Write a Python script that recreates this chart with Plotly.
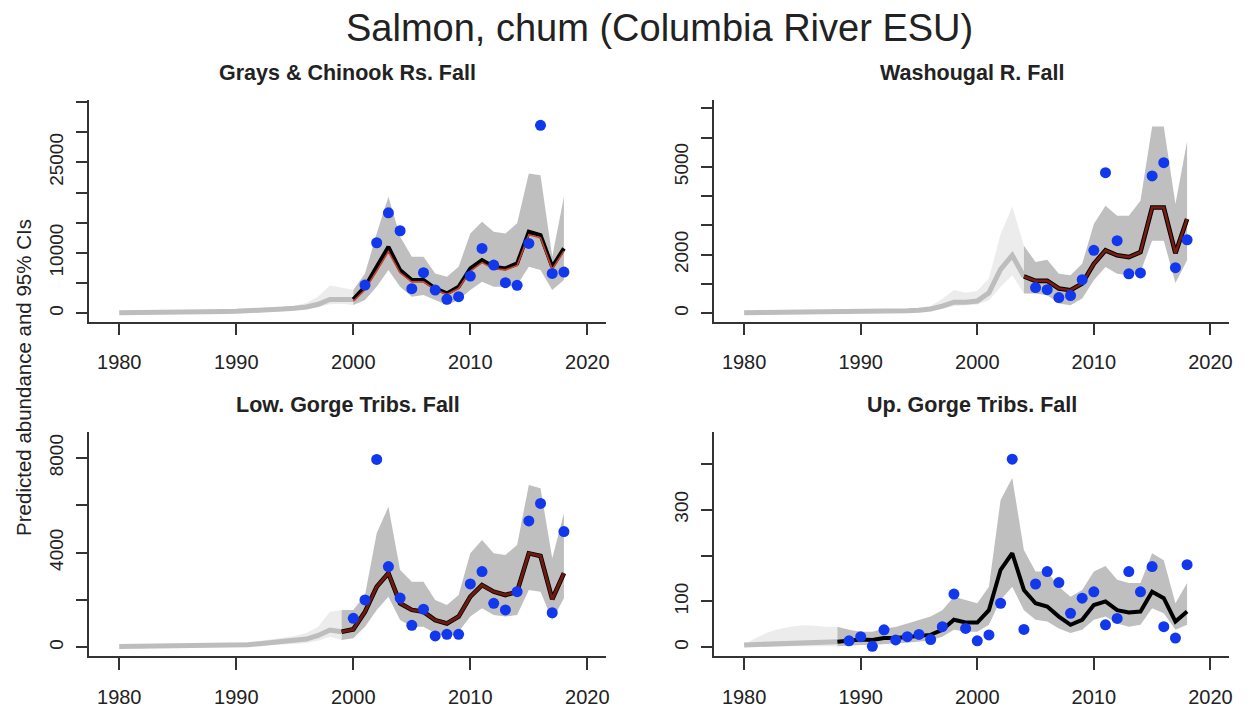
import plotly.graph_objects as go

# ---------------- data ----------------
# Grays & Chinook Rs. Fall
g_obs_years = list(range(2001, 2019))
g_obs = [4680, 11680, 16640, 13670, 4080, 6720, 3860, 2310, 2760, 6170, 10740, 7990, 5070, 4630, 11570, 31130, 6610, 6830]
g_fit_years = list(range(2000, 2019))
g_fit = [2310, 4400, 7700, 11000, 7160, 5500, 5500, 4130, 3300, 4400, 7440, 8800, 7700, 7440, 8260, 13500, 12950, 7700, 10740]
g_fit2 = [2000, 3900, 7000, 10200, 6700, 5200, 5200, 3900, 3100, 4100, 7000, 8400, 7400, 7200, 7900, 13000, 12500, 7300, 10300]
g_up = [3860, 6600, 13200, 19300, 12700, 9370, 9370, 6600, 6060, 7700, 13200, 15150, 13500, 13200, 14900, 23140, 22870, 9370, 19300]
g_lo = [1380, 2200, 4400, 7160, 4400, 2760, 3030, 2200, 1380, 2200, 3860, 5230, 4400, 4400, 4680, 7700, 7160, 3860, 5500]
g_bc_years = list(range(1980, 2001))
g_bc = [100, 100, 120, 140, 160, 180, 200, 230, 260, 300, 340, 380, 480, 580, 700, 850, 1050, 1500, 2300, 2300, 2300]
g_bc_up = [300, 320, 350, 380, 420, 460, 500, 550, 600, 650, 700, 760, 880, 1000, 1150, 1300, 1700, 2800, 4600, 4300, 3900]
g_bc_lo = [0, 0, 0, 10, 20, 30, 40, 60, 80, 100, 130, 160, 220, 280, 350, 500, 700, 1000, 1500, 1600, 1380]

# Washougal R. Fall
w_obs_years = list(range(2005, 2019))
w_obs = [880, 810, 540, 610, 1150, 2150, 4800, 2480, 1350, 1380, 4690, 5140, 1560, 2510]
w_fit_years = list(range(2004, 2019))
w_fit = [1260, 1110, 1110, 850, 790, 1020, 1690, 2150, 1980, 1920, 2090, 3610, 3610, 2050, 3220]
w_up = [2310, 1750, 1830, 1350, 1300, 1690, 3050, 3670, 3330, 3330, 3840, 6380, 6380, 3730, 5870]
w_lo = [680, 680, 620, 340, 280, 510, 1130, 1580, 1350, 1300, 1410, 2480, 2480, 1040, 1810]
w_bc_years = list(range(1980, 2005))
w_bc = [20, 22, 24, 26, 28, 30, 32, 34, 36, 38, 40, 50, 60, 70, 90, 110, 150, 250, 380, 380, 420, 700, 1500, 1980, 1260]
w_bc_up = [40, 45, 50, 55, 60, 65, 70, 75, 80, 85, 90, 100, 115, 130, 160, 190, 250, 500, 800, 700, 760, 1200, 2700, 3650, 2310]
w_bc_lo = [0, 0, 0, 0, 0, 0, 5, 5, 5, 5, 10, 15, 20, 30, 40, 50, 80, 150, 250, 280, 300, 450, 900, 1300, 680]

# Low. Gorge Tribs. Fall
l_obs_years = list(range(2000, 2019))
l_obs = [1225, 2000, 7940, 3410, 2080, 930, 1610, 480, 550, 550, 2680, 3200, 1860, 1580, 2350, 5340, 6080, 1460, 4890]
l_fit_years = list(range(1999, 2019))
l_fit = [660, 760, 1500, 2560, 3130, 1860, 1580, 1500, 1150, 1010, 1300, 2140, 2630, 2350, 2210, 2350, 3970, 3860, 2030, 3130]
l_up = [1580, 1580, 2210, 4820, 5940, 3270, 2770, 2770, 2000, 1790, 2210, 3970, 4530, 3970, 3900, 4320, 6860, 6720, 3760, 5660]
l_lo = [310, 380, 870, 1580, 2140, 1150, 870, 870, 590, 450, 660, 1300, 1650, 1370, 1300, 1370, 2420, 2350, 1150, 2070]
l_bc_years = list(range(1980, 2000))
l_bc = [30, 35, 40, 45, 50, 60, 65, 70, 80, 90, 100, 110, 150, 190, 230, 280, 350, 500, 730, 660]
l_bc_up = [70, 80, 90, 100, 110, 120, 130, 140, 150, 170, 190, 210, 270, 330, 400, 480, 600, 870, 1500, 1580]
l_bc_lo = [0, 0, 0, 5, 10, 15, 20, 25, 30, 35, 40, 50, 70, 90, 110, 140, 180, 280, 450, 310]

# Up. Gorge Tribs. Fall
u_obs_years = list(range(1989, 2019))
u_obs = [14, 23, 2, 38, 16, 23, 28, 17, 45, 116, 41, 14, 27, 96, 410, 39, 138, 165, 141, 74, 107, 121, 49, 63, 165, 121, 176, 45, 20, 180]
u_fit_years = list(range(1988, 2019))
u_fit = [12, 15, 17, 16, 20, 20, 23, 25, 27, 38, 60, 54, 54, 81, 169, 205, 125, 96, 89, 67, 49, 60, 92, 100, 81, 76, 78, 121, 107, 56, 78]
u_up = [45, 38, 34, 34, 41, 44, 52, 60, 67, 81, 110, 103, 96, 132, 321, 369, 212, 165, 165, 132, 110, 125, 165, 177, 147, 140, 140, 205, 190, 96, 140]
u_lo = [2, 3, 5, 5, 7, 9, 10, 12, 15, 23, 38, 34, 34, 49, 103, 132, 81, 60, 56, 41, 31, 38, 60, 67, 52, 45, 49, 85, 74, 38, 49]
u_bc_years = list(range(1980, 1989))
u_bc = [5, 6, 7, 8, 8, 9, 10, 11, 12]
u_bc_up = [6, 20, 32, 40, 45, 48, 47, 45, 45]
u_bc_lo = [2, 2, 2, 2, 2, 2, 2, 2, 2]

x_ticks = [1980, 1990, 2000, 2010, 2020]

panels = [
    dict(title="Grays & Chinook Rs. Fall", obs_x=g_obs_years, obs=g_obs, fit_x=g_fit_years, fit=g_fit, fit2=g_fit2,
         up=g_up, lo=g_lo, bc_x=g_bc_years, bc=g_bc, bc_up=g_bc_up, bc_lo=g_bc_lo,
         yticks=[0, 5000, 10000, 15000, 20000, 25000, 30000, 35000],
         ylabels=["0", "", "10000", "", "", "25000", "", ""], yr=[-1390, 35315], red="#c8402e", redw=1.6, blackw=4),
    dict(title="Washougal R. Fall", obs_x=w_obs_years, obs=w_obs, fit_x=w_fit_years, fit=w_fit, fit2=w_fit,
         up=w_up, lo=w_lo, bc_x=w_bc_years, bc=w_bc, bc_up=w_bc_up, bc_lo=w_bc_lo,
         yticks=[0, 1000, 2000, 3000, 4000, 5000, 6000, 7000],
         ylabels=["0", "", "2000", "", "", "5000", "", ""], yr=[-284, 7280], red="#7a1c10", redw=2.6, blackw=4.6),
    dict(title="Low. Gorge Tribs. Fall", obs_x=l_obs_years, obs=l_obs, fit_x=l_fit_years, fit=l_fit, fit2=l_fit,
         up=l_up, lo=l_lo, bc_x=l_bc_years, bc=l_bc, bc_up=l_bc_up, bc_lo=l_bc_lo,
         yticks=[0, 2000, 4000, 6000, 8000],
         ylabels=["0", "", "4000", "", "8000"], yr=[-367, 9110], red="#6e1a0e", redw=3.0, blackw=4.6),
    dict(title="Up. Gorge Tribs. Fall", obs_x=u_obs_years, obs=u_obs, fit_x=u_fit_years, fit=u_fit, fit2=None,
         up=u_up, lo=u_lo, bc_x=u_bc_years, bc=u_bc, bc_up=u_bc_up, bc_lo=u_bc_lo,
         yticks=[0, 100, 200, 300, 400],
         ylabels=["0", "100", "", "300", ""], yr=[-19, 470], red=None, redw=0, blackw=4),
]

W, H = 1250, 709


def px(x):
    return x / W


def py(y):
    return 1 - y / H


x_doms = [[px(89.7), px(608)], [px(716.7), px(1233)]]
y_doms = [[py(321.7), py(100)], [py(656), py(431.7)]]
x_range = [1977.45, 2021.6]

FONT = "Liberation Sans, Arial, sans-serif"
AX = "#333333"
TXT = "#222222"

fig = go.Figure()
layout = {}
annotations = []

for i, p in enumerate(panels):
    col = i % 2
    row = i // 2
    n = i + 1
    xa = "x" if n == 1 else f"x{n}"
    ya = "y" if n == 1 else f"y{n}"

    # back-cast light band
    fig.add_trace(go.Scatter(x=p["bc_x"] + p["bc_x"][::-1], y=p["bc_up"] + p["bc_lo"][::-1],
                             fill="toself", fillcolor="#ececec", line=dict(width=0), mode="lines",
                             hoverinfo="skip", showlegend=False, xaxis=xa, yaxis=ya))
    # back-cast line
    fig.add_trace(go.Scatter(x=p["bc_x"], y=p["bc"], mode="lines", line=dict(color="#bdbdbd", width=5),
                             hoverinfo="skip", showlegend=False, xaxis=xa, yaxis=ya))
    # 95% CI band
    fig.add_trace(go.Scatter(x=p["fit_x"] + p["fit_x"][::-1], y=p["up"] + p["lo"][::-1],
                             fill="toself", fillcolor="#bfbfbf", line=dict(width=0), mode="lines",
                             hoverinfo="skip", showlegend=False, xaxis=xa, yaxis=ya))
    # fitted line (black)
    fig.add_trace(go.Scatter(x=p["fit_x"], y=p["fit"], mode="lines",
                             line=dict(color="#000000", width=p["blackw"]),
                             hoverinfo="skip", showlegend=False, xaxis=xa, yaxis=ya))
    if p["fit2"] is not None:
        fig.add_trace(go.Scatter(x=p["fit_x"], y=p["fit2"], mode="lines",
                                 line=dict(color=p["red"], width=p["redw"]),
                                 hoverinfo="skip", showlegend=False, xaxis=xa, yaxis=ya))
    # observations
    fig.add_trace(go.Scatter(x=p["obs_x"], y=p["obs"], mode="markers",
                             marker=dict(color="#1238ee", size=11, line=dict(width=0)),
                             hoverinfo="skip", showlegend=False, xaxis=xa, yaxis=ya))

    xkey = "xaxis" if n == 1 else f"xaxis{n}"
    ykey = "yaxis" if n == 1 else f"yaxis{n}"
    layout[xkey] = dict(domain=x_doms[col], anchor=ya, range=x_range, tickvals=x_ticks,
                        showgrid=False, zeroline=False, showline=True, linecolor=AX, linewidth=1.5,
                        ticks="outside", ticklen=12, tickwidth=1.5, tickcolor=AX,
                        tickfont=dict(family=FONT, size=20, color=TXT), ticklabelstandoff=10)
    layout[ykey] = dict(domain=y_doms[row], anchor=xa, range=p["yr"], tickvals=p["yticks"],
                        ticktext=p["ylabels"], tickangle=-90,
                        showgrid=False, zeroline=False, showline=True, linecolor=AX, linewidth=1.5,
                        ticks="outside", ticklen=12, tickwidth=1.5, tickcolor=AX,
                        tickfont=dict(family=FONT, size=19, color=TXT), ticklabelstandoff=5)
    cx = (x_doms[col][0] + x_doms[col][1]) / 2
    ty = py(73 if row == 0 else 405)
    annotations.append(dict(text=f"<b>{p['title']}</b>", x=cx, y=ty, xref="paper", yref="paper",
                            xanchor="center", yanchor="middle", showarrow=False,
                            font=dict(family=FONT, size=21.5, color=TXT)))

annotations.append(dict(text="Salmon, chum (Columbia River ESU)", x=px(662), y=py(28),
                        xref="paper", yref="paper", xanchor="center", yanchor="middle", showarrow=False,
                        borderpad=0, font=dict(family=FONT, size=38, color=TXT)))
annotations.append(dict(text="Predicted abundance and 95% CIs", x=px(24), y=py(377),
                        xref="paper", yref="paper", xanchor="center", yanchor="middle", showarrow=False,
                        textangle=-90, font=dict(family=FONT, size=20.5, color=TXT)))

fig.update_layout(width=W, height=H, margin=dict(l=0, r=0, t=0, b=0),
                  paper_bgcolor="white", plot_bgcolor="white", showlegend=False,
                  annotations=annotations, hovermode=False, **layout)

fig.write_html("out.html", config={"displayModeBar": False},
               post_script="document.body.style.margin='0';document.body.style.padding='0';")
